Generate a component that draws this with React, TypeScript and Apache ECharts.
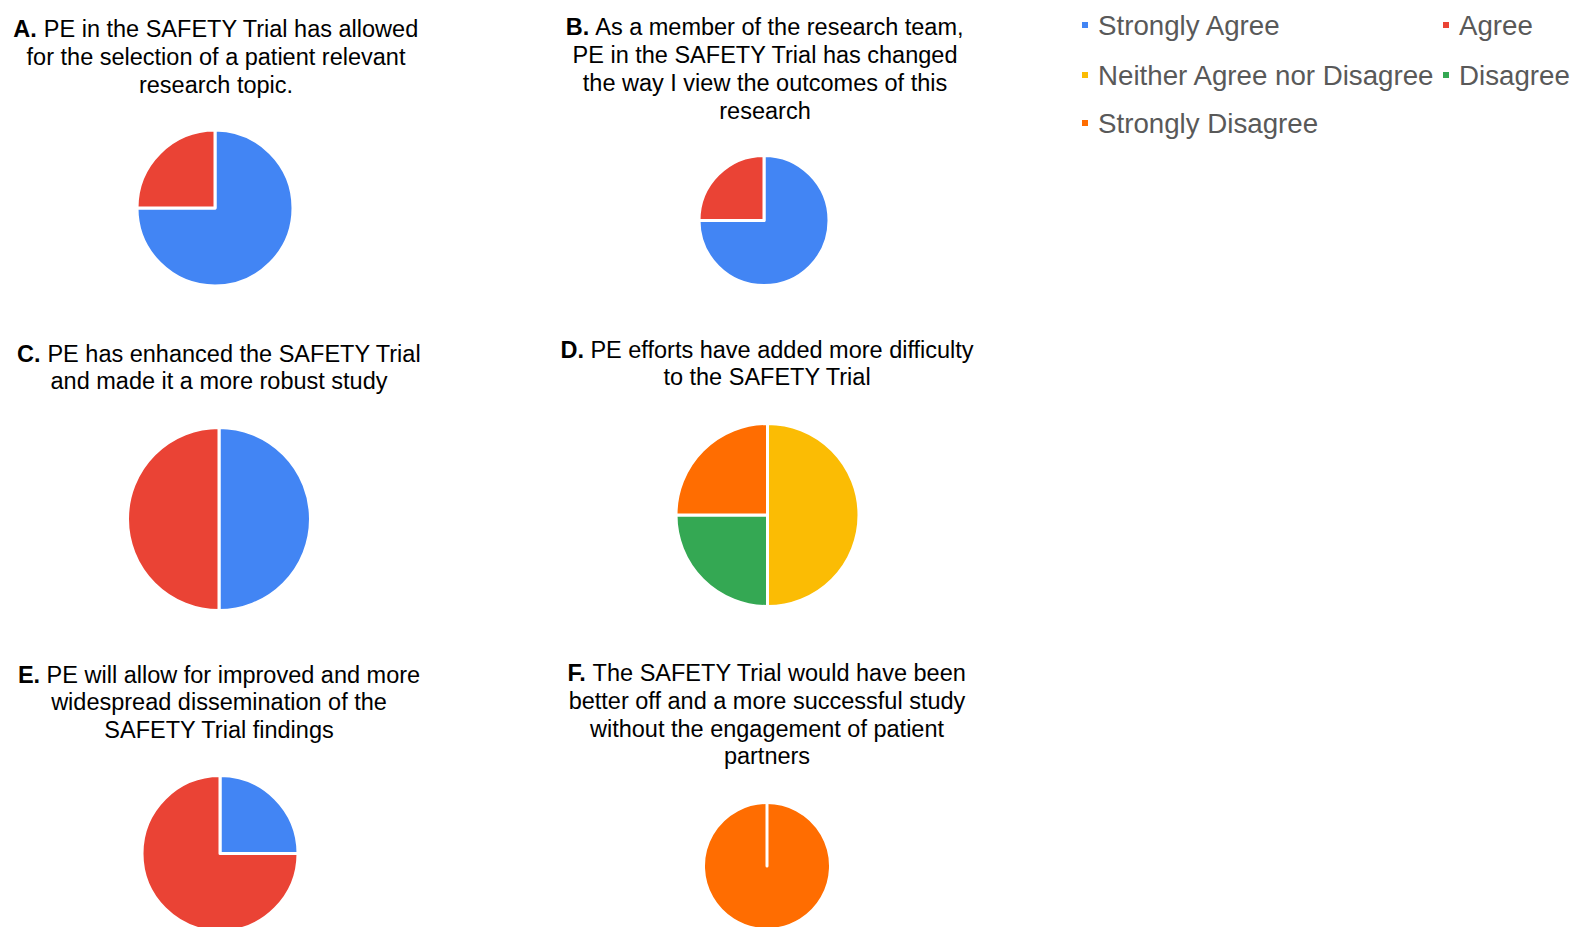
import React, { useEffect, useRef } from "react";
import * as echarts from "echarts";

const categories = [
  "Strongly Agree",
  "Agree",
  "Neither Agree nor Disagree",
  "Disagree",
  "Strongly Disagree",
];
const colors = ["#4285F4", "#EA4335", "#FBBC04", "#34A853", "#FF6D01"];

// responses per chart, in category order
const valuesA = [3, 1, 0, 0, 0];
const valuesB = [3, 1, 0, 0, 0];
const valuesC = [1, 1, 0, 0, 0];
const valuesD = [0, 0, 2, 1, 1];
const valuesE = [1, 3, 0, 0, 0];
const valuesF = [0, 0, 0, 0, 1];

const titleA = ["PE in the SAFETY Trial has allowed", "for the selection of a patient relevant", "research topic."];
const titleB = ["As a member of the research team,", "PE in the SAFETY Trial has changed", "the way I view the outcomes of this", "research"];
const titleC = ["PE has enhanced the SAFETY Trial", "and made it a more robust study"];
const titleD = ["PE efforts have added more difficulty", "to the SAFETY Trial"];
const titleE = ["PE will allow for improved and more", "widespread dissemination of the", "SAFETY Trial findings"];
const titleF = ["The SAFETY Trial would have been", "better off and a more successful study", "without the engagement of patient", "partners"];

const panels = [
  { letter: "A.", lines: titleA, values: valuesA, tx: 216, ty: 15, lh: 28, cx: 215, cy: 208, r: 78 },
  { letter: "B.", lines: titleB, values: valuesB, tx: 765, ty: 13.5, lh: 27.8, cx: 764, cy: 220.5, r: 65 },
  { letter: "C.", lines: titleC, values: valuesC, tx: 219, ty: 340, lh: 27.5, cx: 219, cy: 519, r: 91.5 },
  { letter: "D.", lines: titleD, values: valuesD, tx: 767, ty: 336, lh: 27.5, cx: 767.5, cy: 515, r: 91.5 },
  { letter: "E.", lines: titleE, values: valuesE, tx: 219, ty: 661, lh: 27.6, cx: 220, cy: 853.5, r: 78 },
  { letter: "F.", lines: titleF, values: valuesF, tx: 767, ty: 659, lh: 27.8, cx: 767, cy: 866, r: 63.5 },
];

const legendPos = [
  { left: 1080, top: 10 },
  { left: 1441, top: 10 },
  { left: 1080, top: 60 },
  { left: 1441, top: 60 },
  { left: 1080, top: 108 },
];

export default function App() {
  const ref = useRef<HTMLDivElement>(null);
  useEffect(() => {
    if (!ref.current) return;
    const chart = echarts.init(ref.current, null, { renderer: "svg" });
    const font = "Liberation Sans, Arial, sans-serif";
    const title = panels.map((p) => ({
      text: "{b|" + p.letter + "} " + p.lines.join("\n"),
      left: p.tx,
      top: p.ty,
      textAlign: "center",
      padding: 0,
      textStyle: {
        fontFamily: font,
        fontSize: 23.5,
        fontWeight: "normal",
        color: "#000",
        lineHeight: p.lh,
        rich: {
          b: { fontFamily: font, fontSize: 23.5, fontWeight: "bold", color: "#000", lineHeight: p.lh },
        },
      },
    }));
    const legend = categories.map((c, i) => ({
      data: [c],
      left: legendPos[i].left,
      top: legendPos[i].top,
      padding: 0,
      icon: "rect",
      itemWidth: 8,
      itemHeight: 8,
      selectedMode: false,
      textStyle: {
        fontFamily: font,
        fontSize: 27.7,
        color: "#595959",
        lineHeight: 30,
        padding: [0, 0, 0, 4],
      },
    }));
    const series = panels.map((p) => ({
      type: "pie",
      center: [p.cx, p.cy],
      radius: p.r,
      startAngle: 90,
      clockwise: true,
      silent: true,
      label: { show: false },
      labelLine: { show: false },
      itemStyle: { borderColor: "#fff", borderWidth: 3 },
      emphasis: { disabled: true },
      data: categories
        .map((c, i) => ({ name: c, value: p.values[i], itemStyle: { color: colors[i] } }))
        .filter((d) => d.value > 0),
    }));
    const pf = panels[5];
    chart.setOption({
      animation: false,
      color: colors,
      title,
      legend,
      series,
      graphic: [
        {
          type: "line",
          z: 100,
          shape: { x1: pf.cx, y1: pf.cy - pf.r - 2, x2: pf.cx, y2: pf.cy },
          style: { stroke: "#fff", lineWidth: 3, lineCap: "round" },
        },
      ],
    });
    return () => chart.dispose();
  }, []);
  return (
    <div
      ref={ref}
      style={{ position: "fixed", left: 0, top: 0, width: 1572, height: 927, background: "#fff" }}
    />
  );
}
